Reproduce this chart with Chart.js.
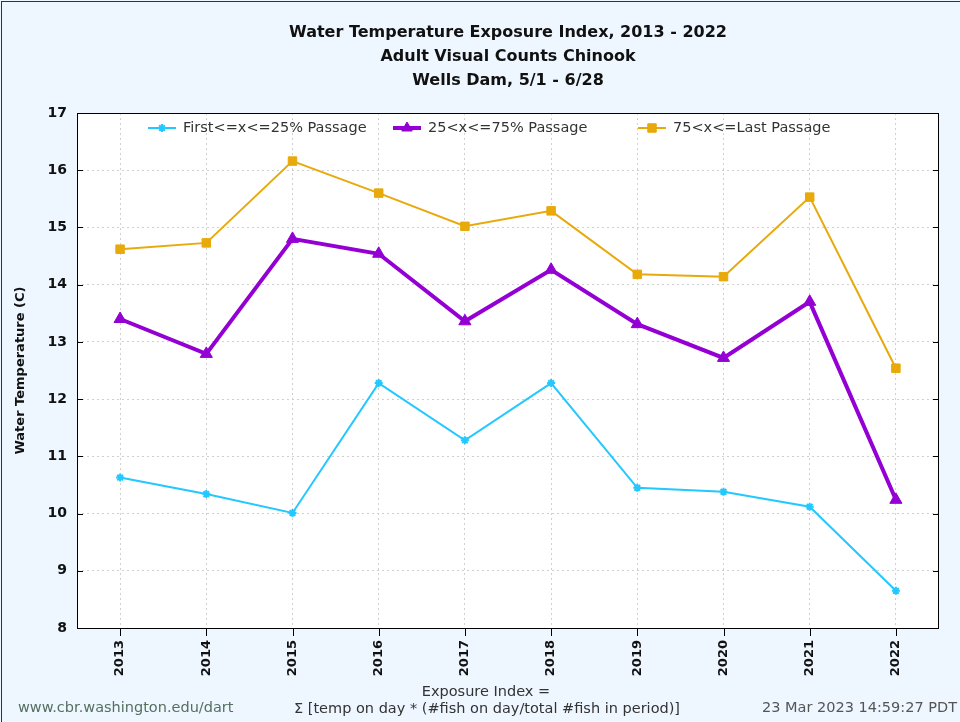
<!DOCTYPE html>
<html>
<head>
<meta charset="utf-8">
<script src="https://cdn.jsdelivr.net/npm/chart.js@4/dist/chart.umd.min.js"></script>
<style>
  html, body { margin: 0; padding: 0; background: #fff; }
  #wrap { width: 960px; height: 722px; }
</style>
</head>
<body>
<div id="wrap"><canvas id="chart" width="960" height="722"></canvas></div>
<script>
const years = ["2013", "2014", "2015", "2016", "2017", "2018", "2019", "2020", "2021", "2022"];
const firstQuarter = [10.63, 10.34, 10.01, 12.28, 11.28, 12.28, 10.45, 10.38, 10.12, 8.65];
const middleHalf = [13.40, 12.79, 14.80, 14.54, 13.36, 14.26, 13.31, 12.72, 13.70, 10.24];
const lastQuarter = [14.62, 14.73, 16.16, 15.60, 15.02, 15.29, 14.18, 14.14, 15.53, 12.54];
const yTicks = [8, 9, 10, 11, 12, 13, 14, 15, 16, 17];

const titleLines = [
  "Water Temperature Exposure Index, 2013 - 2022",
  "Adult Visual Counts Chinook",
  "Wells Dam, 5/1 - 6/28"
];

const SANS = "'DejaVu Sans', sans-serif";

// page background, frame, title, footer, plot box, inward y tics, legend
const decor = {
  id: "decor",
  beforeDraw(chart) {
    const ctx = chart.ctx;
    const a = chart.chartArea;
    ctx.save();
    ctx.fillStyle = "#eef6ff";
    ctx.fillRect(0, 0, chart.width, chart.height);
    ctx.strokeStyle = "#333";
    ctx.lineWidth = 1;
    ctx.strokeRect(1.5, 1.5, chart.width + 5, chart.height + 5);
    ctx.fillStyle = "#fff";
    ctx.fillRect(a.left, a.top, a.right - a.left, a.bottom - a.top);
    ctx.restore();
  },
  afterDraw(chart) {
    const ctx = chart.ctx;
    const a = chart.chartArea;
    const ys = chart.scales.y;
    ctx.save();

    // title
    ctx.fillStyle = "#111";
    ctx.textAlign = "center";
    ctx.textBaseline = "middle";
    ctx.font = "bold 16px " + SANS;
    titleLines.forEach((t, i) => ctx.fillText(t, 508, 33 + i * 24));

    // plot border
    ctx.strokeStyle = "#000";
    ctx.lineWidth = 1;
    ctx.strokeRect(a.left + 0.5, a.top + 0.5, a.right - a.left - 1, a.bottom - a.top);

    // inward y tics
    yTicks.forEach(v => {
      const py = Math.round(ys.getPixelForValue(v)) + 0.5;
      ctx.beginPath();
      ctx.moveTo(a.left, py);
      ctx.lineTo(a.left + 6, py);
      ctx.moveTo(a.right, py);
      ctx.lineTo(a.right - 6, py);
      ctx.stroke();
    });

    // legend inside the plot
    const legendX = [148, 393, 638];
    ctx.font = "14.5px " + SANS;
    ctx.textAlign = "left";
    chart.data.datasets.forEach((ds, i) => {
      const x0 = legendX[i];
      const y0 = 128;
      ctx.strokeStyle = ds.borderColor;
      ctx.fillStyle = ds.borderColor;
      ctx.lineWidth = ds.borderWidth;
      ctx.beginPath();
      ctx.moveTo(x0, y0);
      ctx.lineTo(x0 + 28, y0);
      ctx.stroke();
      ctx.lineWidth = ds.pointBorderWidth;
      Chart.helpers.drawPoint(ctx, {
        pointStyle: ds.pointStyle,
        radius: ds.pointStyle === "triangle" ? 6 : ds.pointRadius,
        borderWidth: ds.pointBorderWidth
      }, x0 + 14, y0);
      ctx.fillStyle = "#333";
      ctx.fillText(ds.label, x0 + 35, y0);
    });

    // footer
    ctx.font = "14.5px " + SANS;
    ctx.fillStyle = "#56705f";
    ctx.textAlign = "left";
    ctx.fillText("www.cbr.washington.edu/dart", 18, 708);
    ctx.fillStyle = "#333";
    ctx.textAlign = "center";
    ctx.fillText("Exposure Index =", 486, 692);
    ctx.fillText("\u03a3 [temp on day * (#fish on day/total #fish in period)]", 487, 709);
    ctx.fillStyle = "#555";
    ctx.textAlign = "right";
    ctx.fillText("23 Mar 2023 14:59:27 PDT", 957, 708);
    ctx.restore();
  }
};

function series(label, data, color, width, style, radius) {
  return {
    label: label,
    data: data,
    borderColor: color,
    backgroundColor: color,
    borderWidth: width,
    pointStyle: style,
    pointRadius: radius,
    pointHoverRadius: radius,
    pointBorderWidth: style === "star" ? 2 : 1,
    pointBackgroundColor: color,
    pointBorderColor: color,
    tension: 0,
    fill: false
  };
}

new Chart(document.getElementById("chart"), {
  type: "line",
  data: {
    labels: years,
    datasets: [
      series("First<=x<=25% Passage", firstQuarter, "#22c8ff", 2, "star", 4),
      series("25<x<=75% Passage", middleHalf, "#9400d3", 4, "triangle", 7),
      series("75<x<=Last Passage", lastQuarter, "#e8a90a", 2, "rect", 6)
    ]
  },
  options: {
    responsive: false,
    animation: false,
    layout: { padding: { left: 0, right: 21, top: 113, bottom: 34 } },
    plugins: {
      legend: { display: false },
      title: { display: false },
      tooltip: { enabled: false }
    },
    scales: {
      x: {
        offset: true,
        grid: {
          offset: false,
          color: "#d0d0d0",
          drawTicks: false
        },
        border: { display: false, dash: [2, 3] },
        ticks: {
          color: "#111",
          font: { family: SANS, size: 13, weight: "bold" },
          minRotation: 90,
          maxRotation: 90,
          padding: 12
        },
        afterFit(scale) { scale.height = 60; }
      },
      y: {
        min: 8,
        max: 17,
        afterBuildTicks(scale) { scale.ticks = yTicks.map(v => ({ value: v })); },
        grid: { color: "#d0d0d0", drawTicks: false },
        border: { display: false, dash: [2, 3] },
        ticks: {
          color: "#111",
          font: { family: SANS, size: 14, weight: "bold" },
          padding: 10
        },
        title: {
          display: true,
          text: "Water Temperature (C)",
          color: "#111",
          font: { family: SANS, size: 13, weight: "bold" },
          padding: { top: 13, bottom: 0 }
        },
        afterFit(scale) { scale.width = 77; }
      }
    }
  },
  plugins: [decor, {
    id: "xtics",
    afterDraw(chart) {
      const ctx = chart.ctx;
      const a = chart.chartArea;
      const xs = chart.scales.x;
      ctx.save();
      ctx.strokeStyle = "#000";
      ctx.lineWidth = 1;
      years.forEach((y, i) => {
        const px = Math.round(xs.getPixelForValue(i)) + 0.5;
        ctx.beginPath();
        ctx.moveTo(px, a.bottom);
        ctx.lineTo(px, a.bottom + 8);
        ctx.stroke();
      });
      ctx.restore();
    }
  }]
});
</script>
</body>
</html>
